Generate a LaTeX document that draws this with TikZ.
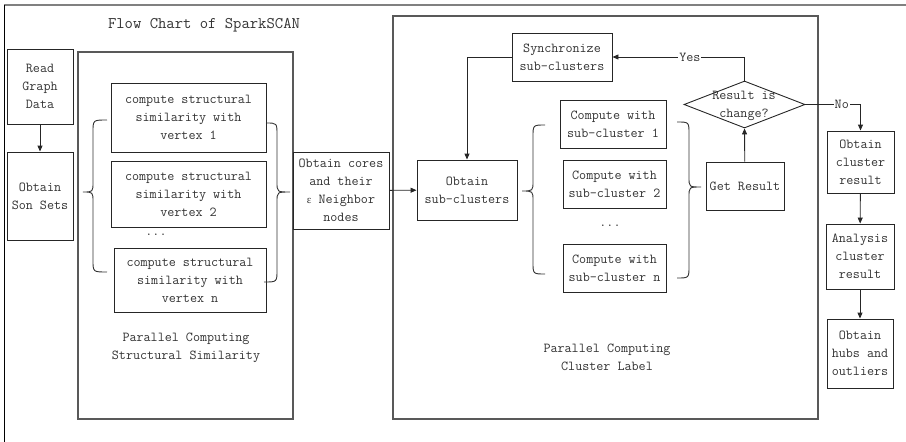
\documentclass[tikz,border=0pt]{standalone}
\usepackage{fontspec}
\newfontfamily\grkfont{Liberation Serif}
\usetikzlibrary{arrows.meta,shapes.geometric}
\begin{document}
\begin{tikzpicture}[x=1pt,y=-1pt,
  txt/.style={font=\ttfamily\fontsize{13.7}{18}\selectfont, text=black!80, align=center},
  box/.style={txt, draw=black!85, line width=0.9pt, inner sep=0pt},
  big/.style={draw=black!65, line width=1.1pt, inner sep=0pt},
  arr/.style={draw=black!85, line width=0.9pt, -{Triangle[length=6pt,width=5pt]}},
  ln/.style={draw=black!85, line width=0.9pt},
  brace/.style={draw=black!80, line width=0.9pt}]
\useasboundingbox (0,0) rectangle (906,442);
% frame
\draw[black!50, line width=2pt] (4,5) -- (906,5);
\draw[black, line width=0.9pt] (4,5) -- (4,442);
% title
\node[txt, font=\ttfamily\fontsize{16.2}{20}\selectfont] (title) at (204,25) {Flow Chart of SparkSCAN};
% big boxes
\node[big, minimum width=215pt, minimum height=367pt] (bigL) at (185.5,235.5) {};
\node[big, minimum width=425pt, minimum height=403pt] (bigR) at (605.5,217.5) {};
% left column
\node[box, minimum width=66pt, minimum height=75pt] (read) at (40,86.5) {Read\\Graph\\Data};
\node[box, minimum width=66pt, minimum height=88pt] (son) at (40,196) {Obtain\\Son Sets};
% compute boxes
\node[box, minimum width=155pt, minimum height=69pt] (c1) at (188.5,117.5) {compute structural\\similarity with\\vertex 1};
\node[box, minimum width=155pt, minimum height=66pt] (c2) at (188.5,194) {compute structural\\similarity with\\vertex 2};
\node[txt] (d1) at (156,235) {...};
\node[box, minimum width=152pt, minimum height=64pt] (cn) at (190,280) {compute structural\\similarity with\\vertex n};
\node[txt] (labL) at (186,348) {Parallel Computing\\Structural Similarity};
% cores
\node[box, minimum width=96pt, minimum height=77pt] (cores) at (341,190.5) {Obtain cores\\and their\\{\grkfont\fontsize{11}{18}\selectfont ε}~Neighbor\\nodes};
% right big box content
\node[box, minimum width=100pt, minimum height=48pt] (sync) at (562,57) {Synchronize\\sub-clusters};
\node[box, minimum width=100pt, minimum height=60pt] (osub) at (467,190) {Obtain\\sub-clusters};
\node[box, minimum width=106pt, minimum height=48pt] (s1) at (613,124) {Compute with\\sub-cluster 1};
\node[box, minimum width=103pt, minimum height=48pt] (s2) at (614.5,184) {Compute with\\sub-cluster 2};
\node[txt] (d2) at (610,226) {...};
\node[box, minimum width=103pt, minimum height=48pt] (sn) at (614.5,268) {Compute with\\sub-cluster n};
\node[box, minimum width=78pt, minimum height=48pt] (get) at (745,186) {Get Result};
\node[draw=black!85, line width=0.9pt, shape=diamond, inner sep=0pt, minimum width=121pt, minimum height=47pt] (dia) at (744.5,104.5) {};
\node[txt] (diat) at (744,105.5) {Result is\\change?};
\node[txt] (labR) at (607,357) {Parallel Computing\\Cluster Label};
% right column
\node[box, minimum width=67pt, minimum height=62pt] (ocr) at (860.5,162) {Obtain\\cluster\\result};
\node[box, minimum width=68pt, minimum height=65pt] (ana) at (860,256.5) {Analysis\\cluster\\result};
\node[box, minimum width=66pt, minimum height=69pt] (hubs) at (860,353.5) {Obtain\\hubs and\\outliers};
% braces
\draw[brace] (107,120) .. controls (93,120) .. (93,132) -- (93,182) .. controls (93,192) .. (83,192) .. controls (93,192) .. (93,202) -- (93,260) .. controls (93,272) .. (107,272);
\draw[brace] (266,123) .. controls (277,123) .. (277,135) -- (277,182) .. controls (277,192) .. (290,192) .. controls (277,192) .. (277,202) -- (277,270) .. controls (277,282) .. (264,282);
\draw[brace] (545,125) .. controls (533,125) .. (533,137) -- (533,181) .. controls (533,191) .. (522,191) .. controls (533,191) .. (533,201) -- (533,262) .. controls (533,274) .. (545,274);
\draw[brace] (677,122) .. controls (689,122) .. (689,134) -- (689,177) .. controls (689,187) .. (701,187) .. controls (689,187) .. (689,197) -- (689,266) .. controls (689,278) .. (677,278);
% connectors
\draw[arr] (read) -- (son);
\draw[arr] (cores) -- (osub);
\draw[arr] (sync.west) -| (osub.north);
\draw[arr] (get) -- (dia.south);
\draw[arr] (dia.north) |- node[pos=0.707, txt, fill=white, inner sep=1pt] (yes) {Yes} (sync.east);
\draw[arr] (dia.east) -| node[pos=0.33, txt, fill=white, inner sep=1pt] (no) {No} (ocr.north);
\draw[arr] (ocr) -- (ana);
\draw[arr] (ana) -- (hubs);
\end{tikzpicture}
\end{document}
